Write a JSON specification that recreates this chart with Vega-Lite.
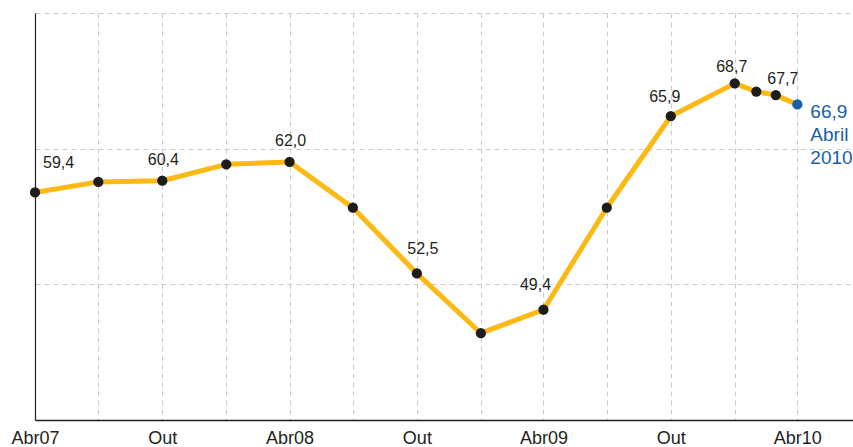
{
  "$schema": "https://vega.github.io/schema/vega-lite/v6.json",
  "width": 818,
  "height": 407,
  "autosize": {"type": "none"},
  "padding": {"left": 35, "top": 13, "right": 0, "bottom": 27},
  "background": "white",
  "config": {"view": {"stroke": null}, "font": "Liberation Sans"},
  "data": {"values": [
    {"date": "2007-04-01", "value": 59.4, "label": "59,4"},
    {"date": "2007-07-01", "value": 60.3, "label": ""},
    {"date": "2007-10-01", "value": 60.4, "label": "60,4"},
    {"date": "2008-01-01", "value": 61.8, "label": ""},
    {"date": "2008-04-01", "value": 62.0, "label": "62,0"},
    {"date": "2008-07-01", "value": 58.1, "label": ""},
    {"date": "2008-10-01", "value": 52.5, "label": "52,5"},
    {"date": "2009-01-01", "value": 47.4, "label": ""},
    {"date": "2009-04-01", "value": 49.4, "label": "49,4"},
    {"date": "2009-07-01", "value": 58.1, "label": ""},
    {"date": "2009-10-01", "value": 65.9, "label": "65,9"},
    {"date": "2010-01-01", "value": 68.7, "label": "68,7"},
    {"date": "2010-02-01", "value": 68.0, "label": ""},
    {"date": "2010-03-01", "value": 67.7, "label": "67,7"},
    {"date": "2010-04-01", "value": 66.9, "label": "66,9\nAbril\n2010"}
  ]},
  "encoding": {
    "x": {
      "field": "date", "type": "temporal",
      "scale": {"type": "utc", "nice": false, "domain": [
        {"year": 2007, "month": 4, "date": 1, "utc": true},
        {"year": 2010, "month": 6, "date": 20, "utc": true}
      ]},
      "axis": {
        "title": null,
        "values": [
          {"year": 2007, "month": 4, "date": 1, "utc": true},
          {"year": 2007, "month": 7, "date": 1, "utc": true},
          {"year": 2007, "month": 10, "date": 1, "utc": true},
          {"year": 2008, "month": 1, "date": 1, "utc": true},
          {"year": 2008, "month": 4, "date": 1, "utc": true},
          {"year": 2008, "month": 7, "date": 1, "utc": true},
          {"year": 2008, "month": 10, "date": 1, "utc": true},
          {"year": 2009, "month": 1, "date": 1, "utc": true},
          {"year": 2009, "month": 4, "date": 1, "utc": true},
          {"year": 2009, "month": 7, "date": 1, "utc": true},
          {"year": 2009, "month": 10, "date": 1, "utc": true},
          {"year": 2010, "month": 1, "date": 1, "utc": true},
          {"year": 2010, "month": 4, "date": 1, "utc": true}
        ],
        "labelExpr": "utcmonth(datum.value) == 3 ? 'Abr' + utcFormat(datum.value, '%y') : (utcmonth(datum.value) == 9 ? 'Out' : '')",
        "grid": true, "gridDash": [5, 4], "gridColor": "#cccccc", "gridWidth": 1,
        "domainColor": "#231f20", "domainWidth": 1.5,
        "ticks": false, "labelFlush": false, "labelOverlap": false,
        "labelFontSize": 18, "labelColor": "#231f20", "labelPadding": 9,
        "labelFont": "Liberation Sans"
      }
    },
    "y": {
      "field": "value", "type": "quantitative",
      "scale": {"domain": [40, 74.7], "nice": false, "zero": false},
      "axis": {
        "title": null, "labels": false, "ticks": false,
        "values": [51.57, 63.13, 74.7],
        "grid": true, "gridDash": [5, 4], "gridColor": "#cccccc", "gridWidth": 1,
        "domainColor": "#231f20", "domainWidth": 1.2
      }
    }
  },
  "layer": [
    {"mark": {"type": "line", "color": "#FDB913", "strokeWidth": 5, "strokeJoin": "round"}},
    {"mark": {"type": "circle", "size": 105, "opacity": 1},
     "encoding": {"color": {"condition": {"test": "datum.value == 66.9", "value": "#1560a8"}, "value": "#1d1d1b"}}},
    {"transform": [{"filter": "datum.label == '59,4'"}],
     "mark": {"type": "text", "align": "left", "baseline": "alphabetic", "dx": 8, "dy": -24, "fontSize": 16, "color": "#231f20"},
     "encoding": {"text": {"field": "label"}}},
    {"transform": [{"filter": "datum.label == '60,4' || datum.label == '62,0'"}],
     "mark": {"type": "text", "align": "center", "baseline": "alphabetic", "dx": 1, "dy": -16, "fontSize": 16, "color": "#231f20"},
     "encoding": {"text": {"field": "label"}}},
    {"transform": [{"filter": "datum.label == '52,5'"}],
     "mark": {"type": "text", "align": "center", "baseline": "alphabetic", "dx": 6, "dy": -19, "fontSize": 16, "color": "#231f20"},
     "encoding": {"text": {"field": "label"}}},
    {"transform": [{"filter": "datum.label == '49,4'"}],
     "mark": {"type": "text", "align": "center", "baseline": "alphabetic", "dx": -8, "dy": -20, "fontSize": 16, "color": "#231f20"},
     "encoding": {"text": {"field": "label"}}},
    {"transform": [{"filter": "datum.label == '65,9'"}],
     "mark": {"type": "text", "align": "center", "baseline": "alphabetic", "dx": -6, "dy": -14, "fontSize": 16, "color": "#231f20"},
     "encoding": {"text": {"field": "label"}}},
    {"transform": [{"filter": "datum.label == '68,7'"}],
     "mark": {"type": "text", "align": "center", "baseline": "alphabetic", "dx": -3, "dy": -11, "fontSize": 16, "color": "#231f20"},
     "encoding": {"text": {"field": "label"}}},
    {"transform": [{"filter": "datum.label == '67,7'"}],
     "mark": {"type": "text", "align": "center", "baseline": "alphabetic", "dx": 7, "dy": -11, "fontSize": 16, "color": "#231f20"},
     "encoding": {"text": {"field": "label"}}},
    {"transform": [{"filter": "datum.value == 66.9"}],
     "mark": {"type": "text", "align": "left", "baseline": "top", "dx": 13, "dy": -1, "fontSize": 19, "lineHeight": 23, "lineBreak": "\n", "color": "#1560a8"},
     "encoding": {"text": {"field": "label"}}}
  ]
}
